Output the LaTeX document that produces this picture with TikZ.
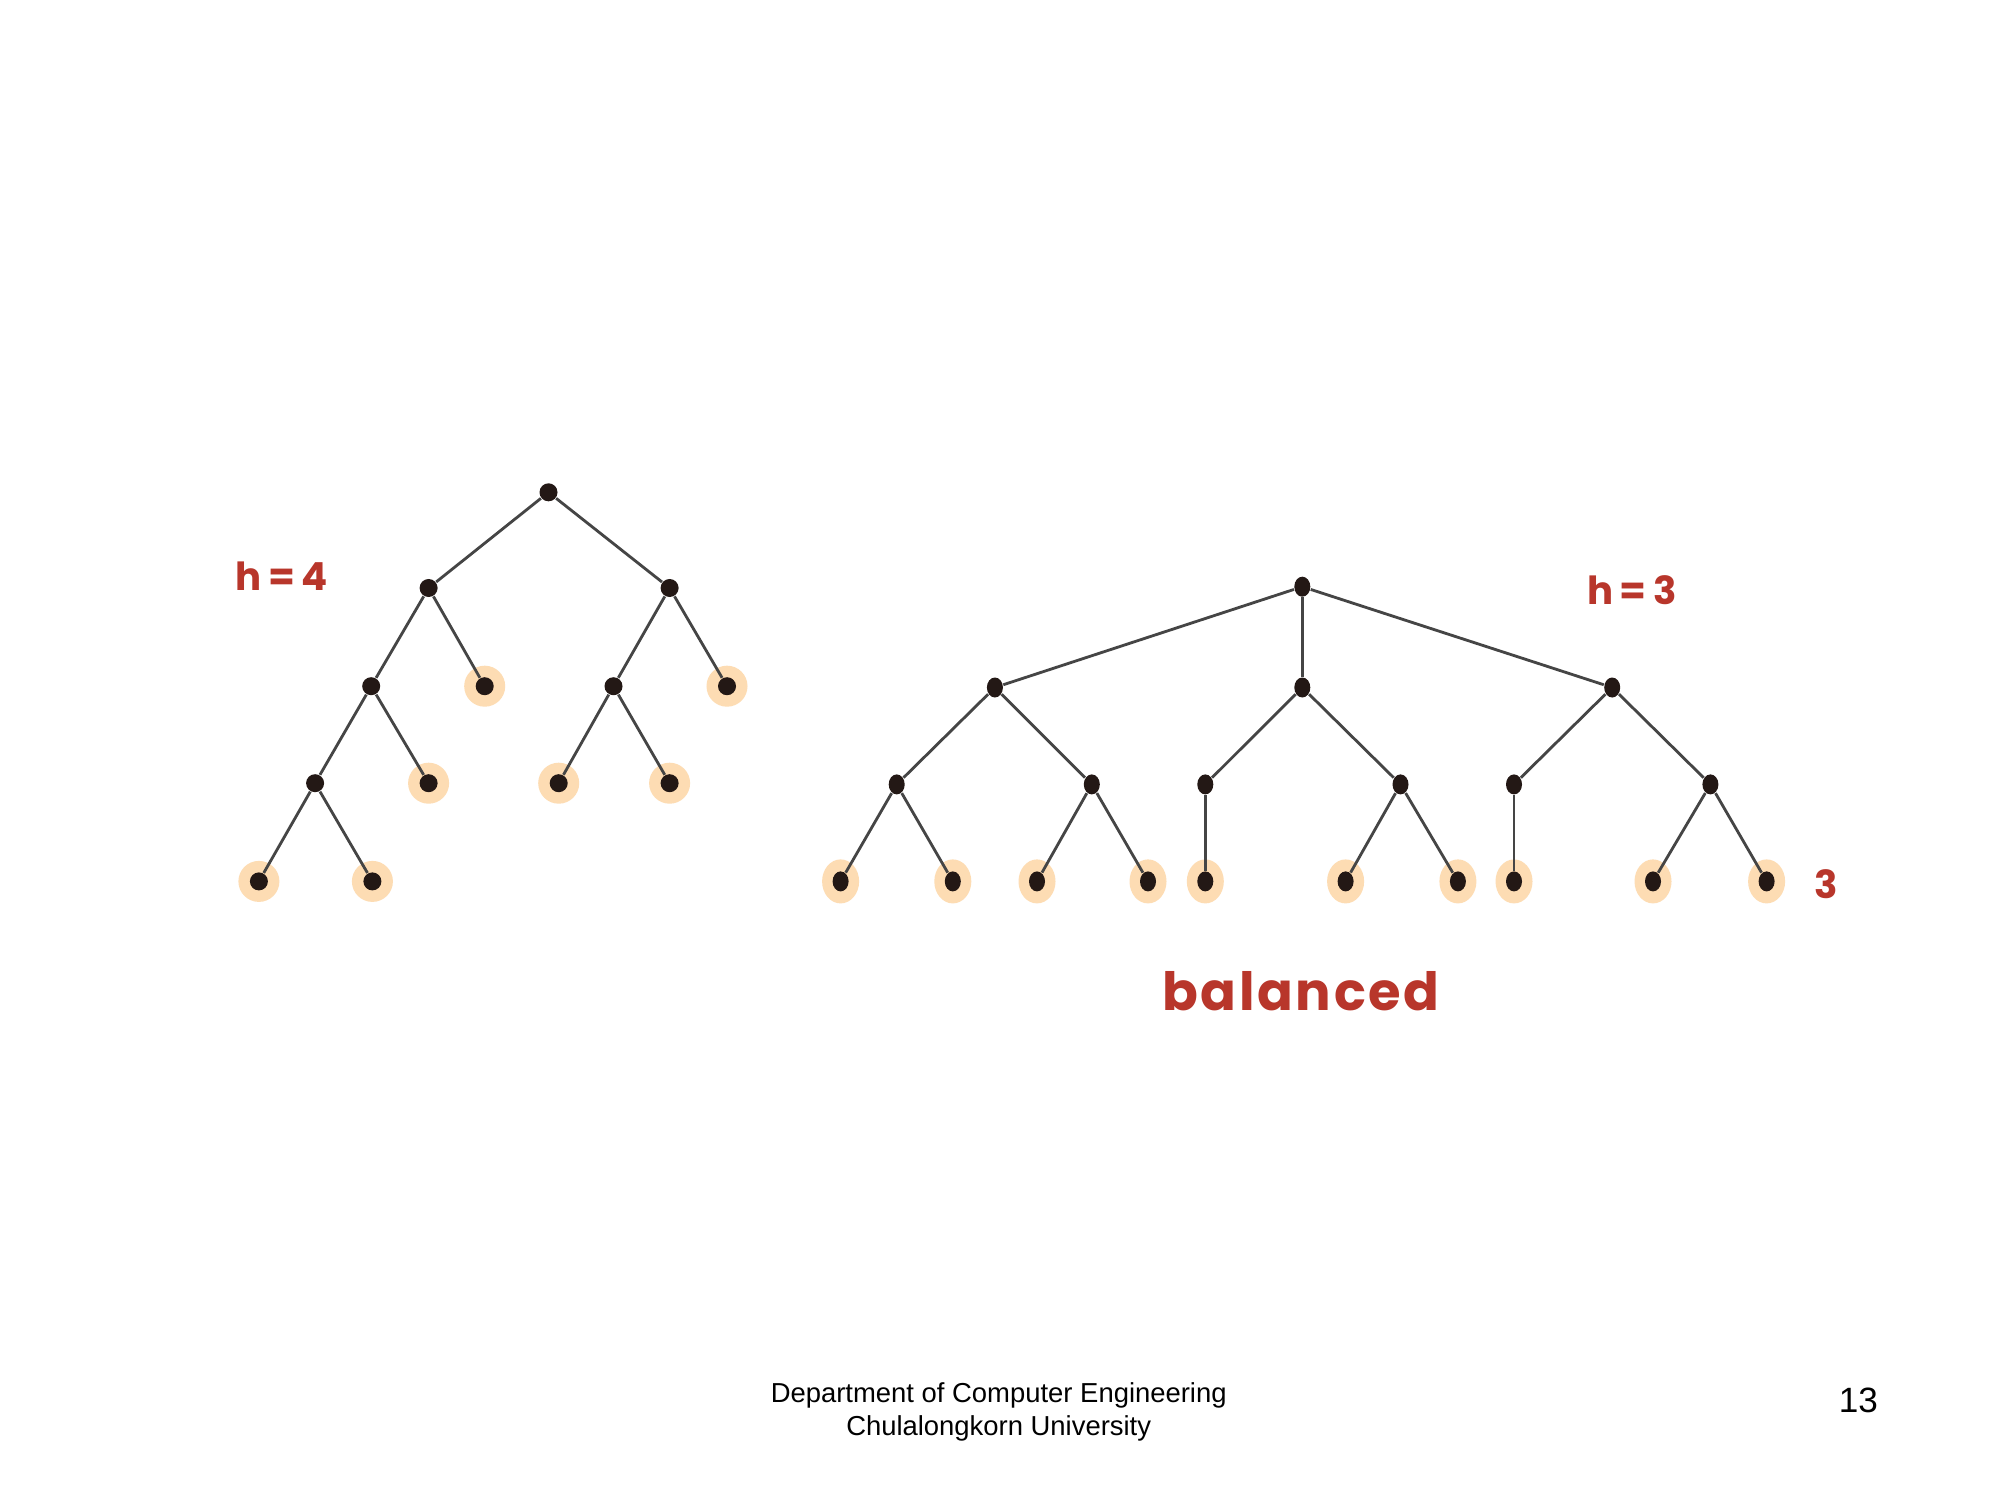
\documentclass[tikz,border=0pt]{standalone}
\usepackage{fontspec}
\setmainfont{Liberation Sans}
\newfontfamily\handfont{Poppins}
\newfontfamily\handfontwide{Poppins}[LetterSpace=5]
\usetikzlibrary{shapes.geometric}
\definecolor{dotc}{HTML}{231815}
\definecolor{edgec}{HTML}{454545}
\definecolor{haloc}{HTML}{FDDCB3}
\definecolor{redc}{HTML}{B8362B}
\tikzset{
  dotL/.style={circle,fill=dotc,inner sep=0pt,minimum size=0.18cm},
  haloL/.style={circle,fill=haloc,inner sep=0pt,minimum size=0.41cm},
  dotR/.style={ellipse,fill=dotc,inner sep=0pt,minimum width=0.16cm,minimum height=0.20cm},
  haloR/.style={ellipse,fill=haloc,inner sep=0pt,minimum width=0.37cm,minimum height=0.44cm},
  edge/.style={draw=edgec,line width=0.8pt},
  hand/.style={text=redc,font=\handfont\bfseries,inner sep=0pt},
  foot/.style={text=black,inner sep=0pt}
}
\begin{document}
\begin{tikzpicture}[x=0.01cm,y=-0.01cm]
\useasboundingbox (0,0) rectangle (2000,1500);
\fill[white] (0,0) rectangle (2000,1500);
% ---------- left tree ----------
\foreach \n/\x/\y in {hb/484.7/686.2, hd/727.0/686.2, hf/428.6/783.2, hg/558.7/783.2, hh/669.6/783.2, hi/258.9/881.4, hj/372.4/881.4}
  \node[haloL] (\n) at (\x,\y) {};
\node[dotL] (r)  at (548.5,492.3) {};
\node[dotL] (a1) at (428.6,588.0) {};
\node[dotL] (a2) at (669.6,588.0) {};
\node[dotL] (b1) at (371.2,686.2) {};
\node[dotL] (b2) at (484.7,686.2) {};
\node[dotL] (b3) at (613.5,686.2) {};
\node[dotL] (b4) at (727.0,686.2) {};
\node[dotL] (c1) at (315.1,783.2) {};
\node[dotL] (c2) at (428.6,783.2) {};
\node[dotL] (c3) at (558.7,783.2) {};
\node[dotL] (c4) at (669.6,783.2) {};
\node[dotL] (d1) at (258.9,881.4) {};
\node[dotL] (d2) at (372.4,881.4) {};
\foreach \p/\q in {r/a1, r/a2, a1/b1, a1/b2, a2/b3, a2/b4, b1/c1, b1/c2, b3/c3, b3/c4, c1/d1, c1/d2}
  \draw[edge] (\p) -- (\q);
% ---------- right tree ----------
\foreach \n/\x in {ha/840.6, hbb/952.8, hc/1037.0, hdd/1148.0, he/1205.3, hff/1345.6, hgg/1457.9, hhh/1514.0, hii/1653.0, hjj/1766.6}
  \node[haloR] (\n) at (\x,881.4) {};
\node[dotR] (R)  at (1302.3,586.7) {};
\node[dotR] (P1) at (994.9,687.5) {};
\node[dotR] (P2) at (1302.3,687.5) {};
\node[dotR] (P3) at (1612.2,687.5) {};
\node[dotR] (Q1) at (896.7,784.4) {};
\node[dotR] (Q2) at (1091.8,784.4) {};
\node[dotR] (Q3) at (1205.3,784.4) {};
\node[dotR] (Q4) at (1400.5,784.4) {};
\node[dotR] (Q5) at (1514.0,784.4) {};
\node[dotR] (Q6) at (1710.4,784.4) {};
\node[dotR] (L1)  at (840.6,881.4) {};
\node[dotR] (L2)  at (952.8,881.4) {};
\node[dotR] (L3)  at (1037.0,881.4) {};
\node[dotR] (L4)  at (1148.0,881.4) {};
\node[dotR] (L5)  at (1205.3,881.4) {};
\node[dotR] (L6)  at (1345.6,881.4) {};
\node[dotR] (L7)  at (1457.9,881.4) {};
\node[dotR] (L8)  at (1514.0,881.4) {};
\node[dotR] (L9)  at (1653.0,881.4) {};
\node[dotR] (L10) at (1766.6,881.4) {};
\foreach \p/\q in {R/P1, R/P2, R/P3, P1/Q1, P1/Q2, P2/Q3, P2/Q4, P3/Q5, P3/Q6,
  Q1/L1, Q1/L2, Q2/L3, Q2/L4, Q3/L5, Q4/L6, Q4/L7, Q5/L8, Q6/L9, Q6/L10}
  \draw[edge] (\p) -- (\q);
% ---------- labels ----------
\node[hand,font=\handfont\bfseries\fontsize{11pt}{11pt}\selectfont] (h4) at (282,576.5) {h\,=\,4};
\node[hand,font=\handfont\bfseries\fontsize{11pt}{11pt}\selectfont] (h3) at (1632,590.5) {h\,=\,3};
\node[hand,font=\handfont\bfseries\fontsize{11pt}{11pt}\selectfont] (three) at (1826.5,884) {3};
\node[hand,font=\handfontwide\bfseries\fontsize{15pt}{15pt}\selectfont] (bal) at (1301,991) {balanced};
% ---------- footer ----------
\node[foot,font=\fontsize{7.8pt}{9pt}\selectfont] (dep) at (998.7,1395.4) {Department of Computer Engineering};
\node[foot,font=\fontsize{7.8pt}{9pt}\selectfont] (uni) at (998.7,1428.6) {Chulalongkorn University};
\node[foot,font=\fontsize{10pt}{12pt}\selectfont] (pg) at (1858.4,1400.5) {13};
\end{tikzpicture}
\end{document}
